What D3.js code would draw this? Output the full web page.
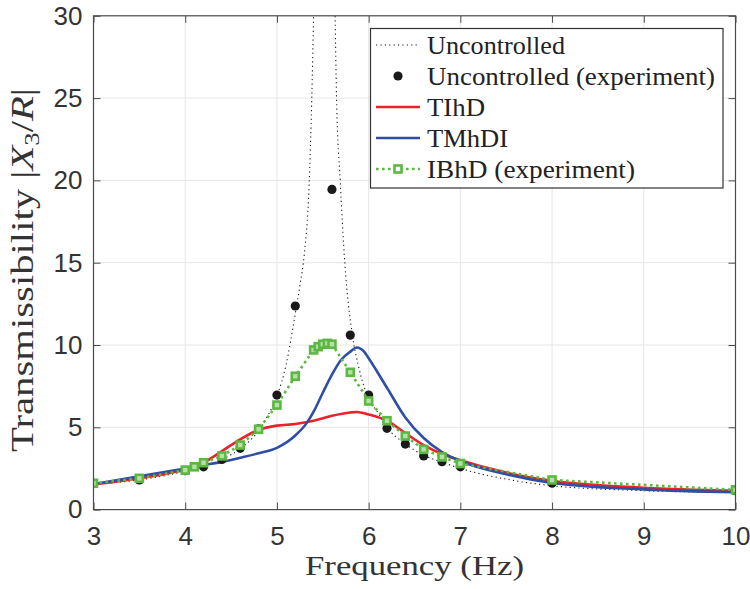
<!DOCTYPE html>
<html><head><meta charset="utf-8">
<script src="https://cdn.jsdelivr.net/npm/d3@7"></script>
<style>body{margin:0;background:#fff}svg{display:block}</style>
</head><body>
<svg id="c" width="750" height="589"></svg>
<script>
// ---- data ----
const xTicks = [3,4,5,6,7,8,9,10];
const yTicks = [0,5,10,15,20,25,30];

const uncF = [3.0,3.5,4.0,4.2,4.4,4.6,4.8,4.9,5.0,5.1,5.2,5.25,5.3,5.35,5.38,5.4,5.45,5.52,5.58,5.634,5.65,5.69,5.74,5.82,5.89,5.98,6.1,6.2,6.4,6.6,6.8,7.0,7.5,8.0,9.0,10.0];
const uncV = [1.55,1.8,2.33,2.6,3.05,3.7,4.8,5.7,6.9,8.8,11.9,13.6,15.6,19.6,25,30,45,70,45,30,25,20,15,10.7,8.7,7.0,5.9,5.0,4.0,3.3,2.88,2.5,1.85,1.45,1.15,1.03];

const expF = [3,3.5,4,4.2,4.4,4.6,4.8,5,5.2,5.6,5.8,6,6.2,6.4,6.6,6.8,7,8,10];
const expV = [1.6,1.8,2.37,2.6,3.05,3.72,4.9,6.96,12.37,19.45,10.6,6.96,4.94,3.98,3.26,2.91,2.6,1.6,1.15];

const tihdF = [3,3.5,4,4.2,4.4,4.6,4.8,5,5.2,5.4,5.6,5.8,5.87,6,6.2,6.4,6.6,6.8,7,7.5,8,9,10];
const tihdV = [1.52,1.9,2.45,2.85,3.55,4.27,4.84,5.1,5.2,5.4,5.7,5.9,5.93,5.78,5.4,4.65,3.92,3.38,3.0,2.25,1.75,1.33,1.15];

const tmhdiF = [3,3.5,4,4.2,4.4,4.6,4.8,5,5.2,5.33,5.4,5.5,5.6,5.7,5.8,5.87,5.95,6,6.2,6.4,6.6,6.8,7,7.5,8,9,10];
const tmhdiV = [1.55,2.02,2.5,2.7,2.9,3.15,3.42,3.75,4.5,5.3,5.95,7.1,8.2,9.1,9.6,9.85,9.6,9.2,7.4,5.6,4.35,3.5,2.95,2.15,1.62,1.23,1.05];

const ibhdF = [3,3.5,4,4.1,4.2,4.4,4.6,4.8,5,5.2,5.4,5.45,5.5,5.55,5.6,5.8,6,6.2,6.4,6.6,6.8,7,8,10];
const ibhdV = [1.6,1.9,2.4,2.6,2.85,3.26,3.92,4.88,6.35,8.1,9.7,9.9,10.05,10.1,10.05,8.34,6.6,5.4,4.47,3.66,3.2,2.8,1.8,1.2];

const legendLabels = ["Uncontrolled","Uncontrolled (experiment)","TIhD","TMhDI","IBhD (experiment)"];

// ---- setup ----
const svg = d3.select("#c");
const L = 93.5, R = 735.5, T = 15.8, B = 509.6;
const x = d3.scaleLinear().domain([3,10]).range([L,R]);
const y = d3.scaleLinear().domain([0,30]).range([B,T]);
const RED="#e8232a", BLUE="#2e4fa5", GREEN="#5cb843", BLK="#1a1a1a";
const TICKFONT = "'Liberation Sans', Arial, Helvetica, sans-serif";
const SERIF = "'Liberation Serif', 'Times New Roman', serif";

svg.append("defs").append("clipPath").attr("id","clip")
  .append("rect").attr("x",L).attr("y",T).attr("width",R-L).attr("height",B-T);

// grid
const g = svg.append("g");
g.selectAll(".gx").data(xTicks.slice(1,-1)).join("line")
  .attr("x1",d=>x(d)).attr("x2",d=>x(d)).attr("y1",T).attr("y2",B)
  .attr("stroke","#e6e6e6").attr("stroke-width",1);
g.selectAll(".gy").data(yTicks.slice(1,-1)).join("line")
  .attr("x1",L).attr("x2",R).attr("y1",d=>y(d)).attr("y2",d=>y(d))
  .attr("stroke","#e6e6e6").attr("stroke-width",1);

// curves
const plot = svg.append("g").attr("clip-path","url(#clip)");
const line = d3.line().x(d=>x(d[0])).y(d=>y(d[1])).curve(d3.curveMonotoneX);
const lin = d3.line().x(d=>x(d[0])).y(d=>y(d[1]));
const zip = (a,b)=>a.map((v,i)=>[v,b[i]]);

plot.append("path").datum(zip(uncF,uncV)).attr("d",line)
  .attr("fill","none").attr("stroke",BLK).attr("stroke-width",1.1).attr("stroke-dasharray","1.2,3.2");
plot.append("path").datum(zip(tihdF,tihdV)).attr("d",line)
  .attr("fill","none").attr("stroke",RED).attr("stroke-width",2.6);
plot.append("path").datum(zip(tmhdiF,tmhdiV)).attr("d",line)
  .attr("fill","none").attr("stroke",BLUE).attr("stroke-width",2.6);
plot.selectAll(".ed").data(zip(expF,expV)).join("circle")
  .attr("cx",d=>x(d[0])).attr("cy",d=>y(d[1])).attr("r",4.6).attr("fill",BLK);
plot.append("path").datum(zip(ibhdF,ibhdV)).attr("d",lin)
  .attr("fill","none").attr("stroke",GREEN).attr("stroke-width",2.6).attr("stroke-dasharray","2.6,3.4");
const SQ = 7;
plot.selectAll(".sq").data(zip(ibhdF,ibhdV)).join("rect")
  .attr("x",d=>x(d[0])-SQ/2).attr("y",d=>y(d[1])-SQ/2).attr("width",SQ).attr("height",SQ)
  .attr("fill","#b7e0a6").attr("stroke",GREEN).attr("stroke-width",2.6);

// axes
const AX = "#4a4a4a";
function styleAxis(sel, labels){
  sel.select(".domain").remove();
  sel.selectAll(".tick line").attr("stroke",AX).attr("stroke-width",1);
  sel.selectAll("text").attr("fill","#333").style("font-family",TICKFONT).style("font-size","26px");
  if(!labels) sel.selectAll("text").remove();
}
svg.append("g").attr("transform",`translate(0,${B})`)
  .call(d3.axisBottom(x).tickValues(xTicks).tickFormat(d3.format("d")).tickSizeInner(-7).tickSizeOuter(0).tickPadding(17))
  .call(s=>styleAxis(s,true));
svg.append("g").attr("transform",`translate(0,${T})`)
  .call(d3.axisTop(x).tickValues(xTicks).tickSizeInner(-7).tickSizeOuter(0))
  .call(s=>styleAxis(s,false));
svg.append("g").attr("transform",`translate(${L},0)`)
  .call(d3.axisLeft(y).tickValues(yTicks).tickFormat(d3.format("d")).tickSizeInner(-7).tickSizeOuter(0).tickPadding(11))
  .call(s=>styleAxis(s,true));
svg.append("g").attr("transform",`translate(${R},0)`)
  .call(d3.axisRight(y).tickValues(yTicks).tickSizeInner(-7).tickSizeOuter(0))
  .call(s=>styleAxis(s,false));
svg.append("rect").attr("x",L).attr("y",T).attr("width",R-L).attr("height",B-T)
  .attr("fill","none").attr("stroke",AX).attr("stroke-width",1.2);

// axis labels
svg.append("text").attr("x",(L+R)/2).attr("y",575).attr("text-anchor","middle")
  .attr("textLength",219).attr("lengthAdjust","spacingAndGlyphs")
  .style("font-family",SERIF).style("font-size","28px").attr("fill","#333")
  .text("Frequency (Hz)");
const yl = svg.append("text").attr("transform","translate(33,270) rotate(-90)")
  .attr("text-anchor","middle").attr("textLength",364).attr("lengthAdjust","spacingAndGlyphs")
  .style("font-family",SERIF).style("font-size","32px").attr("fill","#333");
yl.append("tspan").text("Transmissibility |");
yl.append("tspan").attr("font-style","italic").text("X");
yl.append("tspan").attr("font-size","21px").attr("dy",6).text("3");
yl.append("tspan").attr("dy",-6).text("/");
yl.append("tspan").attr("font-style","italic").text("R");
yl.append("tspan").text("|");

// legend
const lg = svg.append("g");
lg.append("rect").attr("x",370.5).attr("y",28.5).attr("width",352.5).attr("height",159.5)
  .attr("fill","#fff").attr("stroke","#333").attr("stroke-width",1.2);
const rowY = [45,76,107,138,169];
const textW = [138,288,58,81,208];
legendLabels.forEach((t,i)=>{
  lg.append("text").attr("x",427).attr("y",rowY[i]).attr("dy","0.35em")
    .attr("textLength",textW[i]).attr("lengthAdjust","spacingAndGlyphs")
    .style("font-family",SERIF).style("font-size","25px").attr("fill","#222").text(t);
});
const lx1=376, lx2=420, lxm=398;
lg.append("line").attr("x1",lx1).attr("x2",lx2).attr("y1",rowY[0]).attr("y2",rowY[0])
  .attr("stroke",BLK).attr("stroke-width",1.1).attr("stroke-dasharray","1.2,3.2");
lg.append("circle").attr("cx",lxm).attr("cy",rowY[1]).attr("r",4.6).attr("fill",BLK);
lg.append("line").attr("x1",lx1).attr("x2",lx2).attr("y1",rowY[2]).attr("y2",rowY[2])
  .attr("stroke",RED).attr("stroke-width",2.6);
lg.append("line").attr("x1",lx1).attr("x2",lx2).attr("y1",rowY[3]).attr("y2",rowY[3])
  .attr("stroke",BLUE).attr("stroke-width",2.6);
lg.append("line").attr("x1",lx1).attr("x2",lx2).attr("y1",rowY[4]).attr("y2",rowY[4])
  .attr("stroke",GREEN).attr("stroke-width",2.6).attr("stroke-dasharray","2.6,3.4");
lg.append("rect").attr("x",lxm-SQ/2).attr("y",rowY[4]-SQ/2).attr("width",SQ).attr("height",SQ)
  .attr("fill","#fff").attr("stroke",GREEN).attr("stroke-width",2.6);
</script>
</body></html>
